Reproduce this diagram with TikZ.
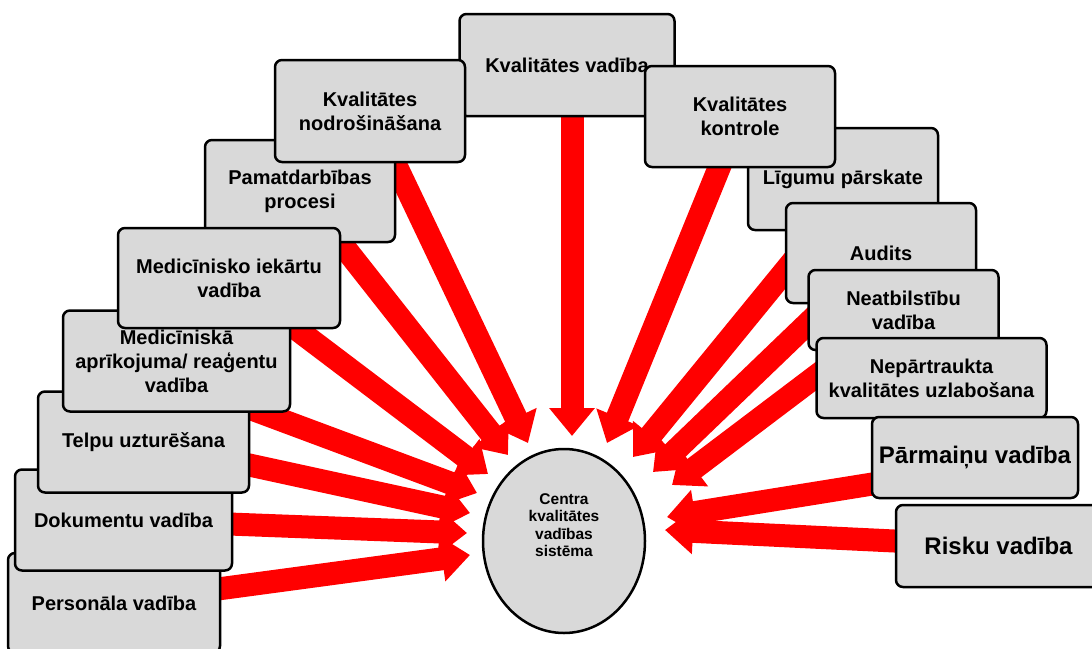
\documentclass[tikz,border=0pt]{standalone}
\usepackage{fontspec}
\setmainfont{Liberation Sans}
\usetikzlibrary{arrows.meta, shapes.geometric}
\pgfdeclarelayer{bg}
\pgfsetlayers{bg,main}
\definecolor{boxgray}{RGB}{217,217,217}

\begin{document}
\begin{tikzpicture}[x=1pt, y=-1pt, font=\bfseries\fontsize{20}{24}\selectfont,
  box/.style={draw, line width=2.5pt, rounded corners=7pt, fill=boxgray, inner sep=0pt, align=center},
  bigbox/.style={box, font=\bfseries\fontsize{24}{28}\selectfont},
  hub/.style={ellipse, draw, line width=2.5pt, fill=boxgray, minimum width=162pt, minimum height=184pt, inner sep=0pt},
  feed/.style={red, line width=23pt, -{Triangle[width=44pt,length=28pt]}}]
\useasboundingbox (0,0) rectangle (1092,648);

\node[box, minimum width=212pt, minimum height=100pt] (pers) at (114,603) {Personāla vadība};
\node[box, minimum width=217pt, minimum height=101pt] (dok) at (123.5,520) {Dokumentu vadība};
\node[box, minimum width=211pt, minimum height=101pt] (telpu) at (143.5,442) {Telpu uzturēšana};
\node[box, minimum width=227pt, minimum height=101pt] (apr) at (176.5,361) {Medicīniskā\\aprīkojuma/ reaģentu\\vadība};
\node[box, minimum width=190pt, minimum height=102pt] (pamat) at (300,191) {Pamatdarbības\\procesi};
\node[box, minimum width=222pt, minimum height=100pt] (iek) at (229,278) {Medicīnisko iekārtu\\vadība};
\node[box, minimum width=215pt, minimum height=102pt] (kvad) at (567,65) {Kvalitātes vadība};
\node[box, minimum width=190pt, minimum height=102pt] (nodr) at (370,111) {Kvalitātes\\nodrošināšana};
\node[box, minimum width=190pt, minimum height=102pt] (lig) at (843,179) {Līgumu pārskate};
\node[box, minimum width=190pt, minimum height=101pt] (kontr) at (740,116.5) {Kvalitātes\\kontrole};
\node[box, minimum width=190pt, minimum height=100pt] (aud) at (881,253) {Audits};
\node[box, minimum width=190pt, minimum height=80pt] (neatb) at (903.5,310) {Neatbilstību\\vadība};
\node[box, minimum width=230pt, minimum height=80pt] (nepr) at (931.5,378) {Nepārtraukta\\kvalitātes uzlabošana};
\node[bigbox, minimum width=206pt, minimum height=81pt] (parm) at (975,457.5) {Pārmaiņu vadība};
\node[bigbox, minimum width=205pt, minimum height=82pt] (risk) at (998.5,546) {Risku vadība};

\node[hub] (sys) at (564,541) {};
\node[align=center, font=\bfseries\fontsize{15.5}{17.5}\selectfont] (sys-txt) at ([yshift=16pt]sys.center) {Centra\\kvalitātes\\vadības\\sistēma};

\coordinate (s-kvad) at ([xshift=5pt]kvad.center);
\coordinate (s-apr) at ([yshift=-20pt]apr.center);
\coordinate (s-lig) at ([yshift=-21pt]lig.center);
\coordinate (s-parm) at ([yshift=-10pt]parm.center);

\coordinate (t-kvad) at (572,436);
\coordinate (t-nodr) at (528,443);
\coordinate (t-pamat) at (508,455);
\coordinate (t-iek) at (488,474);
\coordinate (t-apr) at (477,493);
\coordinate (t-telpu) at (470,513);
\coordinate (t-dok) at (467,533);
\coordinate (t-pers) at (470,555);
\coordinate (t-kontr) at (607,443);
\coordinate (t-lig) at (633,457);
\coordinate (t-aud) at (653,472);
\coordinate (t-neatb) at (672,485);
\coordinate (t-parm) at (667,517);
\coordinate (t-risk) at (665,530);

\begin{pgfonlayer}{bg}
\foreach \src/\dst in {s-kvad/t-kvad, nodr.center/t-nodr, pamat.center/t-pamat, iek.center/t-iek, s-apr/t-apr, telpu.center/t-telpu, dok.center/t-dok, pers.center/t-pers, kontr.center/t-kontr, s-lig/t-lig, aud.center/t-aud, neatb.center/t-neatb, s-parm/t-parm, risk.center/t-risk}
  \draw[feed] (\src) -- (\dst);
\end{pgfonlayer}

\end{tikzpicture}
\end{document}
